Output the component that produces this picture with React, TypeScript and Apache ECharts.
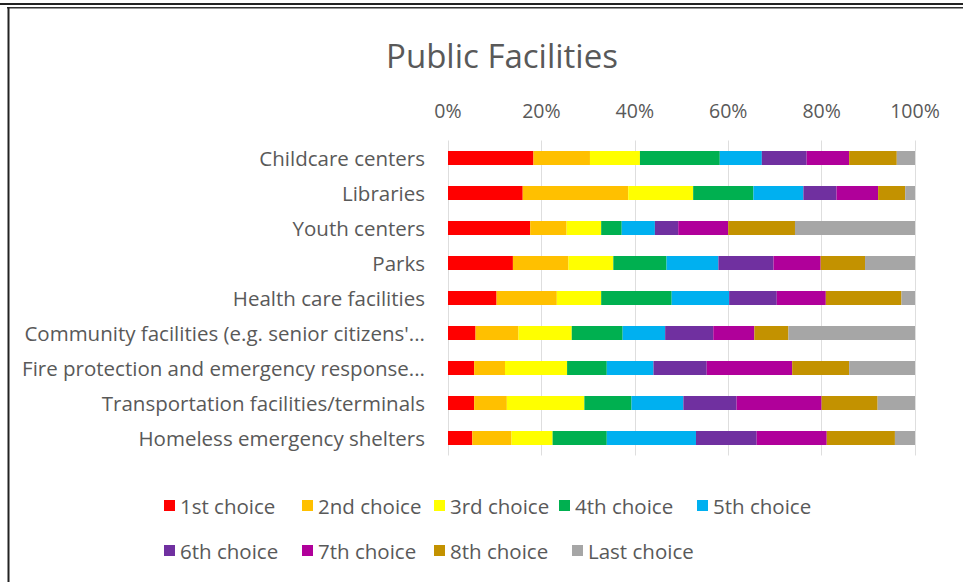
import React, { useEffect, useRef } from "react";
import * as echarts from "echarts";

const title = "Public Facilities";
const categories = [
  "Childcare centers",
  "Libraries",
  "Youth centers",
  "Parks",
  "Health care facilities",
  "Community facilities (e.g. senior citizens'...",
  "Fire protection and emergency response...",
  "Transportation facilities/terminals",
  "Homeless emergency shelters",
];
const seriesNames = [
  "1st choice",
  "2nd choice",
  "3rd choice",
  "4th choice",
  "5th choice",
  "6th choice",
  "7th choice",
  "8th choice",
  "Last choice",
];
const choice1 = [18.3, 16.0, 17.6, 13.9, 10.4, 5.9, 5.6, 5.6, 5.2];
const choice2 = [12.1, 22.6, 7.8, 11.9, 12.9, 9.2, 6.6, 7.0, 8.4];
const choice3 = [10.7, 13.9, 7.4, 9.6, 9.5, 11.4, 13.3, 16.6, 8.8];
const choice4 = [17.1, 12.9, 4.4, 11.4, 15.1, 10.9, 8.5, 10.1, 11.6];
const choice5 = [9.0, 10.7, 7.1, 11.1, 12.3, 9.1, 10.0, 11.1, 19.1];
const choice6 = [9.6, 7.1, 5.0, 11.8, 10.2, 10.3, 11.4, 11.4, 13.0];
const choice7 = [9.1, 8.9, 10.7, 10.1, 10.5, 8.8, 18.3, 18.2, 15.0];
const choice8 = [10.2, 5.8, 14.3, 9.5, 16.2, 7.3, 12.2, 12.0, 14.6];
const choiceLast = [3.9, 2.1, 25.7, 10.7, 2.9, 27.1, 14.1, 8.0, 4.3];
const seriesValues = [choice1, choice2, choice3, choice4, choice5, choice6, choice7, choice8, choiceLast];
const colors = ["#FF0000", "#FFC000", "#FFFF00", "#00B050", "#00B0F0", "#7030A0", "#B0009A", "#C39200", "#A6A6A6"];
const xTicks = [0, 20, 40, 60, 80, 100];

// legend placement (left x, center y) per item
const legendPos: [number, number][] = [
  [164, 509], [302, 509], [434, 509], [559, 509], [697, 509],
  [164, 554], [302, 554], [434, 554], [572, 554],
];

const FONT = "'Open Sans', 'Noto Sans', sans-serif";
const TXT = "#595959";

export default function App() {
  const ref = useRef<HTMLDivElement>(null);
  useEffect(() => {
    document.body.style.margin = "0";
    const chart = echarts.init(ref.current!, null, { renderer: "svg" });
    chart.setOption({
      animation: false,
      backgroundColor: "#ffffff",
      textStyle: { fontFamily: FONT },
      title: {
        text: title,
        left: 497,
        textAlign: "center",
        top: 34,
        textStyle: { fontFamily: FONT, fontSize: 33, fontWeight: "normal", color: TXT },
      },
      legend: seriesNames.map((n, i) => ({
        data: [n],
        left: legendPos[i][0],
        top: legendPos[i][1] - 14,
        padding: 0,
        icon: "rect",
        itemWidth: 11,
        itemHeight: 11,
        itemGap: 0,
        selectedMode: false,
        textStyle: { fontFamily: FONT, fontSize: 20.5, color: TXT, padding: [0, 0, 0, 0] },
      })),
      grid: { left: 448, right: 48, top: 140.5, bottom: 126.5, containLabel: false },
      xAxis: {
        type: "value",
        position: "top",
        min: xTicks[0],
        max: xTicks[xTicks.length - 1],
        interval: 20,
        axisLine: { show: false },
        axisTick: { show: false },
        axisLabel: {
          formatter: "{value}%",
          fontFamily: FONT,
          fontSize: 19.5,
          color: TXT,
          margin: 20,
        },
        splitLine: { show: true, lineStyle: { color: "#DEDEDE", width: 1 } },
      },
      yAxis: {
        type: "category",
        data: categories,
        inverse: true,
        axisLine: { show: false },
        axisTick: { show: false },
        axisLabel: { fontFamily: FONT, fontSize: 20.5, color: TXT, margin: 23 },
      },
      series: seriesNames.map((n, i) => ({
        name: n,
        type: "bar",
        stack: "total",
        barWidth: 14,
        data: seriesValues[i],
        itemStyle: { color: colors[i] },
      })),
      graphic: [
        { type: "rect", shape: { x: 0, y: 3, width: 963, height: 2 }, style: { fill: "#222" }, silent: true },
        { type: "rect", shape: { x: 7, y: 7, width: 956, height: 1.5 }, style: { fill: "#333" }, silent: true },
        { type: "rect", shape: { x: 7.5, y: 7, width: 2, height: 575 }, style: { fill: "#222" }, silent: true },
      ],
    });
    return () => chart.dispose();
  }, []);
  return <div ref={ref} style={{ width: 963, height: 582 }} />;
}
